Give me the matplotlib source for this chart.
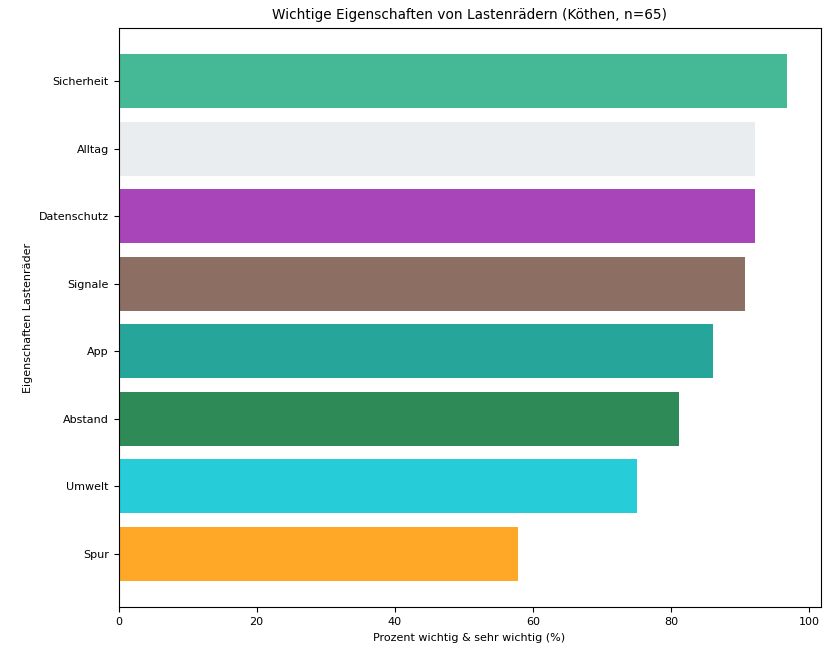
import matplotlib.pyplot as plt

# data (top to bottom)
features = ["Sicherheit", "Alltag", "Datenschutz", "Signale", "App", "Abstand", "Umwelt", "Spur"]
percent = [96.8, 92.2, 92.2, 90.7, 86.0, 81.1, 75.1, 57.9]
colors = ["#45b995", "#eaedf0", "#a845b9", "#8d6e63", "#26a69a", "#2e8b57", "#26cdd9", "#ffa726"]

plt.rcParams["font.size"] = 8

fig, ax = plt.subplots(figsize=(8.23, 6.46), dpi=100)

#reverse so the first item sits on top
ax.barh(features[::-1], percent[::-1], color=colors[::-1], height=0.8)

ax.set_title("Wichtige Eigenschaften von Lastenrädern (Köthen, n=65)", fontsize=9.8)
ax.set_xlabel("Prozent wichtig & sehr wichtig (%)")
ax.set_ylabel("Eigenschaften Lastenräder")

plt.subplots_adjust(left=0.144, right=0.997, top=0.957, bottom=0.06)
plt.savefig("out.png")
